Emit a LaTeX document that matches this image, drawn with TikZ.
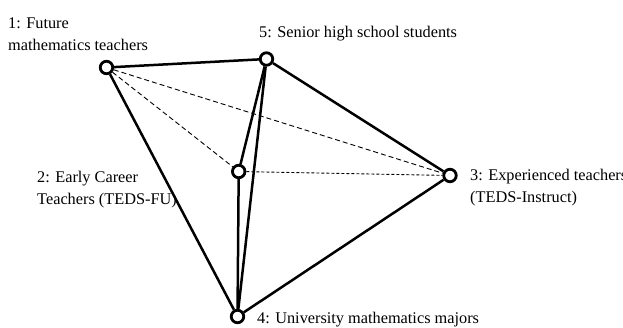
\documentclass[tikz,border=0pt]{standalone}
\usepackage{fontspec}
\setmainfont{Liberation Serif}
\begin{document}
\begin{tikzpicture}[x=1pt,y=-1pt,
  vert/.style={circle,draw,line width=2.8pt,minimum size=12.5pt,inner sep=0pt,fill=white},
  edge/.style={line width=2.5pt},
  dedge/.style={line width=0.9pt,dash pattern=on 5pt off 3pt},
  fedge/.style={line width=0.9pt,dash pattern=on 3pt off 2pt},
  lab/.style={font=\fontsize{16.3}{22}\selectfont,inner sep=0pt,anchor=base west,align=left}]
\useasboundingbox (0,0) rectangle (623,327);
\node[vert] (n1) at (106.5,67.5) {};
\node[vert] (n5) at (266.5,59) {};
\node[vert] (n2) at (238.7,171.5) {};
\node[vert] (n3) at (450,175.5) {};
\node[vert] (n4) at (237.5,316.5) {};
\draw[dedge] (n1) -- (n2);
\draw[dedge] (n1) -- (n3);
\draw[fedge] (n2) -- (n3);
\draw[edge] (n1) -- (n5);
\draw[edge] (n1) -- (n4);
\draw[edge] (n5) -- (n3);
\draw[edge] (n5) -- (n2);
\draw[edge] (n5) -- (n4);
\draw[edge] (n2) -- (n4);
\draw[edge] (n4) -- (n3);
\node[lab] (l1) at (8,50) {1: Future\\mathematics teachers};
\node[lab] (l5) at (259,37) {5: Senior high school students};
\node[lab] (l2) at (37,204.5) {2: Early Career\\Teachers (TEDS-FU)};
\node[lab] (l3) at (470,202) {3: Experienced teachers\\(TEDS-Instruct)};
\node[lab] (l4) at (257,323) {4: University mathematics majors};
\end{tikzpicture}
\end{document}
